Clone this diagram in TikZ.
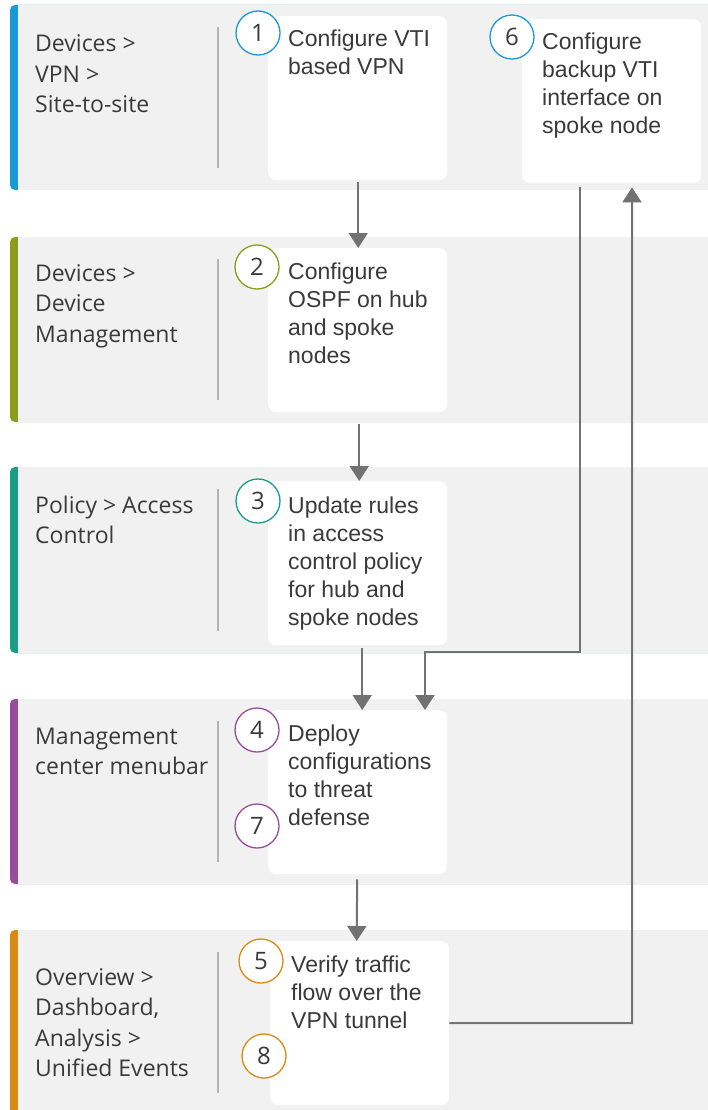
\documentclass[tikz,border=0pt]{standalone}
\usepackage{fontspec}
\setmainfont{Liberation Sans}
\newfontfamily\navfont{Open Sans}
\usetikzlibrary{arrows.meta}

\definecolor{bandgray}{HTML}{F1F1F1}
\definecolor{cblue}{HTML}{1A9AD6}
\definecolor{colive}{HTML}{8A9E1C}
\definecolor{cteal}{HTML}{1A9E88}
\definecolor{cpurple}{HTML}{9A4C9C}
\definecolor{corange}{HTML}{D98A10}
\definecolor{txt}{HTML}{3A3A3A}
\definecolor{flow}{HTML}{727272}
\definecolor{sepline}{HTML}{B4B4B4}

% multi-line texts are placed by the baseline of their last line
\tikzset{
  stepbox/.style={fill=white, rounded corners=8pt, minimum width=179pt,
    minimum height=164pt, inner sep=0pt, anchor=north west},
  steptext/.style={anchor=base west, align=left, inner sep=0pt, text=txt,
    font=\fontsize{23}{28}\selectfont},
  navtext/.style={anchor=base west, align=left, inner sep=0pt, text=txt,
    font=\navfont\fontsize{23}{30.5}\selectfont},
  num/.style={circle, draw=#1, fill=white, line width=1.3pt, minimum size=44pt,
    inner sep=0pt, text=txt, font=\navfont\fontsize{24}{24}\selectfont},
  sepbar/.style={draw=sepline, line width=1.5pt},
  arr/.style={draw=flow, line width=2pt, -{Triangle[width=19pt,length=15pt]}},
}

\newcommand{\band}[3]{%
  \fill[#1, rounded corners=5pt] (10,#2) rectangle (720,#3);
  \fill[bandgray] (18,#2) rectangle (720,#3);
  \draw[sepbar] (218,#2+22) -- (218,#3-22);
}

\begin{document}
\begin{tikzpicture}[x=1pt,y=-1pt]
\useasboundingbox (0,0) rectangle (707,1110);

% swim-lane bands
\band{cblue}{5}{190}
\band{colive}{237}{422}
\band{cteal}{467}{653}
\band{cpurple}{699}{884}
\band{corange}{930}{1115}

% menu paths
\node[navtext] (l1) at (35,113)    {Devices >\\VPN >\\Site-to-site};
\node[navtext] (l2) at (35,342)    {Devices >\\Device\\Management};
\node[navtext] (l3) at (35,543.5)  {Policy > Access\\Control};
\node[navtext] (l4) at (35,774.5)  {Management\\center menubar};
\node[navtext] (l5) at (35,1076.5) {Overview >\\Dashboard,\\Analysis >\\Unified Events};

% step boxes
\node[stepbox] (b1) at (268,16)  {};
\node[stepbox] (b6) at (522,19)  {};
\node[stepbox] (b2) at (268,248) {};
\node[stepbox] (b3) at (268,481) {};
\node[stepbox] (b4) at (268,710) {};
\node[stepbox] (b5) at (270,941) {};

\node[steptext] (t1) at (288,75)   {Configure VTI\\based VPN};
\node[steptext] (t6) at (542,134)  {Configure\\backup VTI\\interface on\\spoke node};
\node[steptext] (t2) at (288,363)  {Configure\\OSPF on hub\\and spoke\\nodes};
\node[steptext] (t3) at (288,625)  {Update rules\\in access\\control policy\\for hub and\\spoke nodes};
\node[steptext] (t4) at (288,825)  {Deploy\\configurations\\to threat\\defense};
\node[steptext] (t5) at (291,1028) {Verify traffic\\flow over the\\VPN tunnel};

% step numbers
\node[num=cblue]   (n1) at (258,33)   {1};
\node[num=cblue]   (n6) at (512,37)   {6};
\node[num=colive]  (n2) at (257,267)  {2};
\node[num=cteal]   (n3) at (258,501)  {3};
\node[num=cpurple] (n4) at (257,730)  {4};
\node[num=cpurple] (n7) at (257,826)  {7};
\node[num=corange] (n5) at (261,961)  {5};
\node[num=corange] (n8) at (264,1056) {8};

% bend points of the loop-back connectors
\coordinate (k1) at (580,652);
\coordinate (k2) at (425,652);
\coordinate (k3) at (632,1023);

% flow
\draw[arr, shorten <=2pt]  ([xshift=0.5pt]b1.south) -- ([xshift=0.5pt]b2.north);
\draw[arr, shorten <=12pt] ([xshift=1.5pt]b2.south) -- ([xshift=1.5pt]b3.north);
\draw[arr, shorten <=3pt]  ([xshift=4.5pt]b3.south) -- ([xshift=4.5pt]b4.north);
\draw[arr, shorten <=5pt]  ([xshift=-0.5pt]b4.south) -- ([xshift=-3pt]b5.north);
\draw[arr, shorten <=4pt]  (b6.south -| k1) -- (k1) -- (k2) -- (k2 |- b4.north);
\draw[arr, shorten >=4pt]  (b5.east) -- (k3) -- (k3 |- b6.south);
\end{tikzpicture}
\end{document}
